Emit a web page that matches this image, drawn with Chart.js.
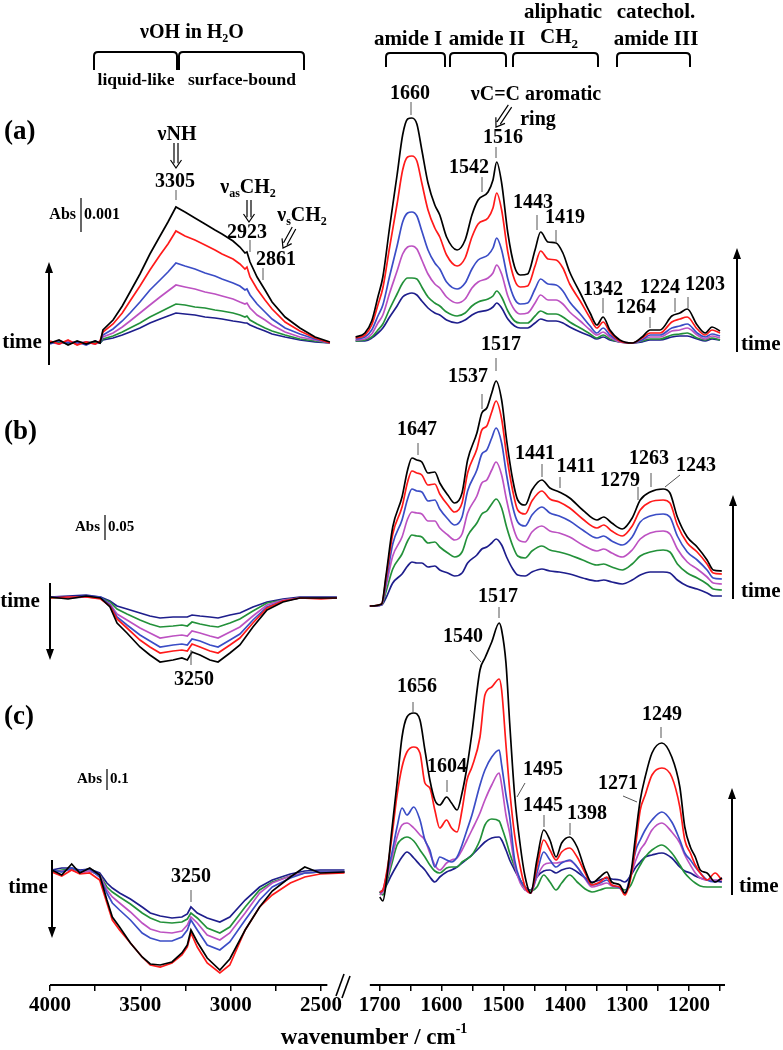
<!DOCTYPE html>
<html>
<head>
<meta charset="utf-8">
<title>IR spectra</title>
<script src="https://cdn.jsdelivr.net/npm/chart.js@4.4.0/dist/chart.umd.min.js"></script>
<style>
  body { margin: 0; background: #fff; }
  #wrap { width: 783px; height: 1050px; position: relative; }
</style>
</head>
<body>
<div id="wrap"><canvas id="spectra" width="783" height="1050"></canvas></div>
<script>
// axis ticks (cm-1)
var xLeftTicks = [4000, 3750, 3500, 3250, 3000, 2750, 2500];
var xLeftLabels = [4000, 3500, 3000, 2500];
var xRightTicks = [1700, 1650, 1600, 1550, 1500, 1450, 1400, 1350, 1300, 1250, 1200, 1150];
var xRightLabels = [1700, 1600, 1500, 1400, 1300, 1200];

// wavenumber grids (cm-1)
var wnALeft = [4000,3950,3900,3850,3800,3750,3723,3707,3651,3600,3557,3502,3447,3391,3347,3303,3253,3198,3142,3087,3048,2987,2949,2921,2910,2893,2854,2810,2771,2699,2617,2533,2451];
var wnARight = [1739,1724,1713,1703,1695,1684,1672,1663,1655,1648,1640,1632,1622,1611,1603,1592,1575,1562,1551,1541,1525,1517,1511,1503,1493,1482,1473,1461,1449,1440,1428,1415,1404,1393,1376,1360,1349,1339,1328,1312,1292,1276,1263,1247,1228,1215,1203,1187,1174,1163,1150];
var wnBLeft = [4000,3900,3800,3720,3668,3629,3574,3502,3447,3391,3319,3270,3240,3214,3170,3115,3070,3004,2949,2877,2799,2711,2617,2500,2412];
var wnBRight = [1716,1697,1690,1679,1664,1655,1648,1640,1632,1622,1611,1603,1590,1579,1567,1558,1543,1535,1527,1519,1512,1503,1495,1485,1477,1465,1454,1438,1425,1410,1393,1372,1349,1338,1325,1308,1292,1279,1263,1242,1231,1219,1203,1187,1171,1161,1147];
var wnCLeft = [3990,3935,3880,3835,3780,3725,3685,3655,3615,3555,3490,3445,3390,3325,3270,3240,3220,3185,3130,3060,3005,2920,2840,2770,2670,2590,2505,2370];
var wnCRight = [1700,1695,1689,1681,1672,1664,1656,1645,1635,1627,1619,1611,1603,1592,1584,1575,1567,1559,1551,1538,1530,1519,1507,1503,1496,1490,1482,1473,1465,1456,1446,1435,1425,1415,1406,1393,1381,1368,1357,1344,1333,1325,1312,1304,1294,1286,1279,1271,1260,1244,1228,1215,1207,1198,1190,1182,1171,1158,1147];

// absorbance in panel units (scale bars: a 34 = 0.001, b 25 = 0.05, c 21 = 0.1)
// panel (a)
var aLeftBlack = [0,3,-2,2,-1,2,0,13,23,37,51,69,89,107,121,136,131,125,119,113,109,102,96,90,91,81,66,53,41,26,15,6,1];
var aLeftRed = [2,-1,3,-2,1,-1,2,11,19,30,42,57,73,88,99,112,107,103,98,93,89,84,79,74,76,66,54,43,34,21,12,5,0];
var aLeftBlue = [-1,2,0,1,-2,2,0,8,14,22,30,41,53,63,71,80,77,74,70,67,64,60,57,53,54,48,39,31,24,15,9,4,0];
var aLeftMagenta = [1,-1,2,0,1,-1,1,6,10,16,22,30,38,46,52,58,56,54,51,49,47,44,41,39,40,35,28,23,18,11,6,3,0];
var aLeftGreen = [0,1,-1,1,0,1,0,4,7,11,15,20,26,31,35,39,38,36,35,33,32,30,28,26,27,23,19,15,12,8,4,2,0];
var aLeftNavy = [1,0,1,-1,1,0,0,3,5,8,11,15,20,24,27,30,29,28,26,25,24,22,21,20,20,18,15,12,9,6,3,1,0];

var aRightBlack = [6,10,22,46,66,116,168,208,224,225,219,193,160,138,128,106,93,103,128,143,151,163,181,160,110,76,68,69,93,111,101,100,90,71,50,30,18,26,13,3,0,6,13,13,27,30,34,18,10,16,12];
var aRightRed = [5,8,18,38,55,96,139,173,186,187,182,160,133,115,106,88,77,85,106,119,125,135,150,133,91,63,56,57,77,92,84,83,75,59,42,25,15,21,11,2,0,5,10,10,21,24,26,14,8,13,10];
var aRightBlue = [4,6,13,27,38,67,97,121,130,131,127,112,93,80,74,61,54,60,74,83,88,95,105,93,64,44,39,40,54,64,59,58,52,41,29,17,10,15,8,2,0,3,8,8,15,17,19,10,6,9,7];
var aRightMagenta = [3,4,9,20,28,50,72,89,96,97,94,83,69,59,55,46,40,44,55,61,65,70,78,69,47,33,29,30,40,48,43,43,39,31,22,13,8,11,6,1,0,3,6,6,12,13,15,8,4,7,5];
var aRightGreen = [2,3,6,13,19,34,49,60,65,65,64,56,46,40,37,31,27,30,37,41,44,47,52,46,32,22,20,20,27,32,29,29,26,21,15,9,5,8,4,1,0,2,4,4,8,9,10,5,3,5,3];
var aRightNavy = [2,2,5,10,15,26,37,46,49,50,48,42,35,30,28,23,20,23,28,31,33,36,40,35,24,17,15,15,20,24,22,22,20,16,11,7,4,6,3,1,0,1,3,3,6,7,7,4,2,4,3];

// panel (b)
var bLeftBlack = [10,8,11,9,0,-16,-26,-40,-48,-55,-53,-51,-53,-45,-48,-53,-55,-46,-38,-20,-3,5,9,9,9];
var bLeftRed = [9,10,10,8,1,-12,-21,-33,-40,-46,-44,-43,-44,-37,-40,-44,-46,-38,-31,-16,-1,6,9,8,9];
var bLeftBlue = [10,9,11,10,2,-10,-18,-28,-34,-40,-38,-37,-38,-32,-34,-38,-40,-33,-27,-13,0,6,9,9,9];
var bLeftMagenta = [10,9,10,9,3,-7,-13,-21,-26,-31,-29,-28,-29,-24,-26,-29,-31,-25,-20,-9,2,7,9,9,9];
var bLeftGreen = [9,9,10,9,5,-2,-7,-13,-17,-20,-19,-18,-19,-15,-17,-19,-20,-16,-12,-4,4,7,9,9,9];
var bLeftNavy = [10,11,12,10,6,1,-2,-6,-9,-11,-10,-10,-10,-8,-9,-10,-11,-8,-6,0,5,8,10,10,10];

var bRightBlack = [1,3,31,80,110,137,149,147,145,134,135,124,112,104,114,147,174,194,199,214,226,207,167,127,107,102,117,127,119,115,109,97,87,90,84,78,89,107,115,118,114,90,70,60,47,37,36];
var bRightRed = [1,3,28,73,100,125,136,134,132,122,123,113,102,95,104,134,158,177,181,195,206,188,152,116,97,93,106,116,108,105,99,88,79,82,76,71,81,97,105,107,104,82,64,55,43,34,33];
var bRightBlue = [1,2,24,63,87,108,118,116,115,106,107,98,88,82,90,116,137,153,157,169,179,164,132,100,85,81,92,100,94,91,86,77,69,71,66,62,70,85,91,93,90,71,55,47,37,29,28];
var bRightMagenta = [1,2,20,51,70,88,95,94,93,86,86,79,72,67,73,94,111,124,127,137,145,132,107,81,68,65,75,81,76,74,70,62,56,58,54,50,57,68,74,76,73,58,45,38,30,24,23];
var bRightGreen = [1,2,15,38,53,66,72,71,70,64,65,60,54,50,55,71,84,93,96,103,108,99,80,61,51,49,56,61,57,55,52,47,42,43,40,37,43,51,55,57,55,43,34,29,23,18,17];
var bRightNavy = [1,2,9,24,33,41,45,44,44,40,41,37,34,31,34,44,52,58,60,64,68,62,50,38,32,31,35,38,36,35,33,29,26,27,25,23,27,32,35,35,34,27,21,18,14,11,11];

// panel (c)
var cLeftBlack = [25,20,31,22,27,20,-5,-22,-32,-48,-62,-69,-70,-67,-58,-50,-35,-47,-63,-75,-64,-35,-12,4,18,28,22,23];
var cLeftRed = [23,19,25,21,22,15,-8,-25,-35,-48,-62,-70,-72,-68,-60,-52,-38,-52,-68,-78,-70,-35,-12,0,12,18,21,22];
var cLeftBlue = [25,23,27,24,26,18,2,-8,-15,-25,-38,-43,-46,-46,-42,-35,-25,-35,-50,-55,-47,-25,-5,8,17,22,23,23];
var cLeftMagenta = [23,24,25,22,24,20,5,-2,-8,-17,-28,-34,-37,-38,-36,-30,-22,-28,-40,-45,-38,-18,2,12,19,22,23,23];
var cLeftGreen = [23,25,26,23,24,20,8,3,-2,-9,-18,-23,-27,-28,-27,-24,-18,-23,-33,-38,-32,-12,5,13,19,22,23,23];
var cLeftNavy = [25,27,27,25,26,22,12,7,2,-4,-12,-18,-21,-23,-22,-19,-12,-18,-23,-27,-22,-5,8,15,21,24,25,25];

var cRightBlack = [-2,-6,15,62,112,158,178,182,175,145,115,95,90,98,92,85,102,128,162,225,237,253,272,265,232,172,100,50,18,2,35,65,55,38,52,58,48,25,12,18,23,13,10,2,22,62,95,118,142,152,138,108,68,48,38,25,22,13,17];
var cRightRed = [3,5,22,55,100,128,143,148,142,112,107,85,67,75,67,63,85,115,128,158,200,208,216,205,150,105,60,28,8,2,28,55,45,35,43,47,38,22,10,13,18,10,8,0,18,52,85,100,120,127,118,88,55,42,30,22,15,22,15];
var cRightBlue = [3,5,20,40,68,87,80,88,75,55,45,28,38,35,33,38,50,65,80,110,125,138,145,130,100,78,35,15,8,2,22,43,35,28,32,35,28,17,10,12,15,10,7,2,22,45,55,65,75,83,73,55,42,35,28,22,15,13,17];
var cRightMagenta = [0,3,15,35,58,70,72,67,60,55,42,30,25,32,35,37,45,55,65,82,95,110,122,110,80,62,30,12,5,2,18,30,32,32,33,34,28,16,8,10,12,9,7,2,20,35,45,52,65,72,63,52,40,30,22,17,15,15,15];
var cRightGreen = [3,0,12,30,50,56,58,54,45,38,30,24,22,27,28,28,33,36,40,55,70,76,74,68,55,42,28,15,5,4,8,20,13,5,12,20,13,6,3,5,7,7,7,5,10,22,30,38,45,50,42,30,22,16,12,9,8,8,8];
var cRightNavy = [2,4,10,20,30,38,43,37,30,25,18,13,18,23,25,28,32,36,40,48,53,57,58,55,45,35,25,15,8,5,18,24,25,22,25,27,23,17,13,15,17,16,15,13,20,28,33,38,40,42,37,28,24,22,19,17,15,14,13];

// black, red, blue, magenta, green, navy
var colors = ['#000000', '#ff1a1a', '#3b4dc6', '#bd52c2', '#23913a', '#1e1e8c'];

var serif = '"Liberation Serif", "Times New Roman", serif';

function buildSets(wn, seriesList, xId, yId, smooth) {
    return seriesList.map(function(vals, i) {
        return {
            data: wn.map(function(w, j) { return {x: w, y: vals[j]}; }),
            borderColor: colors[i],
            borderWidth: 1.7,
            pointRadius: 0,
            fill: false,
            clip: false,
            tension: 0,
            cubicInterpolationMode: smooth ? 'monotone' : 'default',
            xAxisID: xId,
            yAxisID: yId
        };
    });
}

var datasets = [].concat(
    buildSets(wnALeft, [aLeftBlack, aLeftRed, aLeftBlue, aLeftMagenta, aLeftGreen, aLeftNavy], 'xl', 'ya', false),
    buildSets(wnARight, [aRightBlack, aRightRed, aRightBlue, aRightMagenta, aRightGreen, aRightNavy], 'xr', 'ya', true),
    buildSets(wnBLeft, [bLeftBlack, bLeftRed, bLeftBlue, bLeftMagenta, bLeftGreen, bLeftNavy], 'xl', 'yb', false),
    buildSets(wnBRight, [bRightBlack, bRightRed, bRightBlue, bRightMagenta, bRightGreen, bRightNavy], 'xr', 'yb', true),
    buildSets(wnCLeft, [cLeftBlack, cLeftRed, cLeftBlue, cLeftMagenta, cLeftGreen, cLeftNavy], 'xl', 'yc', false),
    buildSets(wnCRight, [cRightBlack, cRightRed, cRightBlue, cRightMagenta, cRightGreen, cRightNavy], 'xr', 'yc', true)
);

// ---- annotation text, all in canvas pixels ----
var peakLabels = [
    // text, x, y, leader x1, y1, x2, y2
    ['1660', 410, 94, 411, 102, 411, 115],
    ['1516', 503, 138, 496, 147, 496, 158],
    ['1542', 469, 168, 482, 177, 482, 192],
    ['1443', 533, 203, 537, 215, 537, 230],
    ['1419', 565, 218, 556, 230, 556, 243],
    ['1342', 603, 290, 603, 298, 603, 313],
    ['1264', 636, 308, 650, 317, 650, 328],
    ['1224', 660, 288, 675, 298, 675, 312],
    ['1203', 705, 285, 688, 297, 688, 308],
    ['3305', 175, 182, 176, 190, 176, 200],
    ['2923', 247, 233, 250, 240, 250, 252],
    ['2861', 276, 260, 263, 268, 263, 280],
    ['1517', 501, 345, 496, 358, 496, 371],
    ['1537', 468, 377, 482, 394, 482, 409],
    ['1647', 417, 430, 418, 443, 418, 455],
    ['1441', 535, 454, 542, 464, 542, 477],
    ['1411', 576, 467, 560, 477, 560, 488],
    ['1279', 620, 481, 638, 487, 638, 500],
    ['1263', 649, 459, 651, 473, 651, 487],
    ['1243', 696, 466, 680, 475, 665, 487],
    ['3250', 194, 680, 191, 650, 191, 665],
    ['1517', 498, 597, 499, 607, 499, 618],
    ['1540', 463, 637, 470, 650, 481, 662],
    ['1656', 417, 687, 413, 702, 413, 713],
    ['1604', 447, 767, 447, 780, 447, 792],
    ['1495', 543, 770, 525, 783, 517, 797],
    ['1445', 543, 806, 544, 815, 544, 827],
    ['1398', 587, 814, 570, 823, 570, 835],
    ['1271', 618, 784, 623, 796, 637, 802],
    ['1249', 662, 715, 661, 727, 661, 738],
    ['3250', 191, 877, 191, 890, 191, 902]
];

// scale bars: axis, base value, length in panel units, label, x, font size
var scaleBars = [
    ['ya', 111, 34, '0.001', 81, 16],
    ['yb', 67, 25, '0.05', 105, 15],
    ['yc', 105, 21, '0.1', 107, 15]
];

function font(size) { return 'bold ' + size + 'px ' + serif; }

function text(ctx, s, x, y, size, align) {
    ctx.font = font(size);
    ctx.textAlign = align || 'center';
    ctx.textBaseline = 'middle';
    ctx.fillText(s, x, y);
}

// parts: [string, 0 normal | 1 subscript | 2 superscript]
function rich(ctx, parts, x, y, size) {
    var small = Math.round(size * 0.62);
    var w = 0;
    parts.forEach(function(p) {
        ctx.font = font(p[1] ? small : size);
        w += ctx.measureText(p[0]).width;
    });
    var cx = x - w / 2;
    ctx.textAlign = 'left';
    ctx.textBaseline = 'middle';
    parts.forEach(function(p) {
        ctx.font = font(p[1] ? small : size);
        var dy = p[1] === 1 ? size * 0.3 : p[1] === 2 ? -size * 0.36 : 0;
        ctx.fillText(p[0], cx, y + dy);
        cx += ctx.measureText(p[0]).width;
    });
}

function seg(ctx, x1, y1, x2, y2) {
    ctx.beginPath();
    ctx.moveTo(x1, y1);
    ctx.lineTo(x2, y2);
    ctx.stroke();
}

function bracket(ctx, x1, x2, yTop, yEnd) {
    var r = 4;
    ctx.beginPath();
    ctx.moveTo(x1, yEnd);
    ctx.lineTo(x1, yTop + r);
    ctx.quadraticCurveTo(x1, yTop, x1 + r, yTop);
    ctx.lineTo(x2 - r, yTop);
    ctx.quadraticCurveTo(x2, yTop, x2, yTop + r);
    ctx.lineTo(x2, yEnd);
    ctx.stroke();
}

function arrow(ctx, x1, y1, x2, y2) {
    var len = Math.hypot(x2 - x1, y2 - y1), ux = (x2 - x1) / len, uy = (y2 - y1) / len;
    ctx.lineWidth = 2;
    seg(ctx, x1, y1, x2 - ux * 6, y2 - uy * 6);
    ctx.beginPath();
    ctx.moveTo(x2, y2);
    ctx.lineTo(x2 - ux * 11 - uy * 4, y2 - uy * 11 + ux * 4);
    ctx.lineTo(x2 - ux * 11 + uy * 4, y2 - uy * 11 - ux * 4);
    ctx.closePath();
    ctx.fill();
}

function dblArrow(ctx, x1, y1, x2, y2) {
    var len = Math.hypot(x2 - x1, y2 - y1), ux = (x2 - x1) / len, uy = (y2 - y1) / len;
    var nx = -uy, ny = ux, g = 2, hl = 8, hw = 5.5;
    ctx.lineWidth = 1.2;
    ctx.beginPath();
    [-g, g].forEach(function(o) {
        ctx.moveTo(x1 + nx * o, y1 + ny * o);
        ctx.lineTo(x2 - ux * hl * 0.6 + nx * o, y2 - uy * hl * 0.6 + ny * o);
    });
    ctx.moveTo(x2 - ux * hl + nx * hw, y2 - uy * hl + ny * hw);
    ctx.lineTo(x2, y2);
    ctx.lineTo(x2 - ux * hl - nx * hw, y2 - uy * hl - ny * hw);
    ctx.stroke();
}

var annotate = {
    id: 'annotate',
    afterDraw: function(chart) {
        var ctx = chart.ctx, sc = chart.scales, bottom = chart.chartArea.bottom;
        ctx.save();
        ctx.fillStyle = '#000';
        ctx.strokeStyle = '#000';

        // axis lines and break
        ctx.lineWidth = 2;
        seg(ctx, sc.xl.getPixelForValue(4000), bottom, sc.xl.getPixelForValue(2465), bottom);
        seg(ctx, sc.xr.getPixelForValue(1716), bottom, sc.xr.getPixelForValue(1142), bottom);
        ctx.lineWidth = 1.6;
        seg(ctx, 336, 996, 344, 974);
        seg(ctx, 342, 998, 350, 976);
        rich(ctx, [['wavenumber / cm', 0], ['-1', 2]], 374, 1038, 23);

        // headers
        rich(ctx, [['\u03BDOH in H', 0], ['2', 1], ['O', 0]], 192, 33, 20);
        ctx.lineWidth = 2;
        bracket(ctx, 94, 177, 52, 70);
        bracket(ctx, 179, 304, 52, 70);
        text(ctx, 'liquid-like', 136, 80, 17.5);
        text(ctx, 'surface-bound', 242, 80, 17.5);
        text(ctx, 'amide I', 408, 40, 21);
        text(ctx, 'amide II', 487, 40, 21);
        text(ctx, 'aliphatic', 563, 13, 21);
        rich(ctx, [['CH', 0], ['2', 1]], 559, 38, 21);
        text(ctx, 'catechol.', 656, 13, 21);
        text(ctx, 'amide III', 656, 40, 21);
        ctx.lineWidth = 2;
        bracket(ctx, 386, 445, 53, 67);
        bracket(ctx, 450, 506, 53, 67);
        bracket(ctx, 513, 598, 53, 67);
        bracket(ctx, 617, 690, 53, 67);

        // panel letters
        text(ctx, '(a)', 4, 132, 27, 'left');
        text(ctx, '(b)', 4, 432, 27, 'left');
        text(ctx, '(c)', 4, 717, 27, 'left');

        // band assignments
        text(ctx, '\u03BDNH', 177, 135, 20);
        dblArrow(ctx, 176, 143, 176, 168);
        rich(ctx, [['\u03BD', 0], ['as', 1], ['CH', 0], ['2', 1]], 248, 188, 20);
        dblArrow(ctx, 249, 200, 249, 222);
        rich(ctx, [['\u03BD', 0], ['s', 1], ['CH', 0], ['2', 1]], 302, 216, 20);
        dblArrow(ctx, 294, 228, 283, 248);
        text(ctx, '\u03BDC=C aromatic', 536, 95, 20);
        text(ctx, 'ring', 538, 120, 20);
        dblArrow(ctx, 510, 106, 496, 127);

        // peak labels with leaders
        peakLabels.forEach(function(p) {
            text(ctx, p[0], p[1], p[2], 20);
            ctx.strokeStyle = '#555';
            ctx.lineWidth = 1;
            seg(ctx, p[3], p[4], p[5], p[6]);
            ctx.strokeStyle = '#000';
        });

        // absorbance scale bars
        scaleBars.forEach(function(b) {
            var y1 = sc[b[0]].getPixelForValue(b[1]);
            var y2 = sc[b[0]].getPixelForValue(b[1] + b[2]);
            var ym = (y1 + y2) / 2;
            ctx.lineWidth = 1.2;
            seg(ctx, b[4], y1, b[4], y2);
            text(ctx, 'Abs', b[4] - 5, ym, b[5], 'right');
            text(ctx, b[3], b[4] + 3, ym, b[5], 'left');
        });

        // time arrows
        text(ctx, 'time', 22, 343, 21);
        arrow(ctx, 49, 365, 49, 262);
        text(ctx, 'time', 20, 602, 21);
        arrow(ctx, 50, 583, 50, 660);
        text(ctx, 'time', 28, 888, 21);
        arrow(ctx, 52, 860, 52, 938);
        text(ctx, 'time', 741, 345, 21, 'left');
        arrow(ctx, 737, 352, 737, 248);
        text(ctx, 'time', 741, 592, 21, 'left');
        arrow(ctx, 733, 599, 733, 495);
        text(ctx, 'time', 739, 887, 21, 'left');
        arrow(ctx, 732, 895, 732, 788);

        ctx.restore();
    }
};

var tickFont = { family: serif, size: 21, weight: 'bold' };

function xAxis(min, max, weight, tickList, labelList) {
    return {
        type: 'linear', position: 'bottom', stack: 'wn', stackWeight: weight,
        min: min, max: max, reverse: true,
        border: { display: false },
        grid: { drawOnChartArea: false, tickLength: 6, color: '#000', lineWidth: 1.5 },
        ticks: {
            autoSkip: false, maxRotation: 0, padding: 2, color: '#000', font: tickFont,
            callback: function(v) { return labelList.indexOf(v) >= 0 ? String(v) : ''; }
        },
        afterBuildTicks: function(s) {
            s.ticks = tickList.map(function(v) { return { value: v }; });
        },
        afterFit: function(s) { s.height = 65; }
    };
}

new Chart(document.getElementById('spectra'), {
    type: 'line',
    data: { datasets: datasets },
    options: {
        responsive: false,
        animation: false,
        devicePixelRatio: 1,
        events: [],
        layout: { padding: { top: 100, left: 50, right: 58, bottom: 0 } },
        plugins: { legend: { display: false }, tooltip: { enabled: false } },
        scales: {
            xl: xAxis(2312, 4000, 305, xLeftTicks, xLeftLabels),
            xr: xAxis(1142, 1740, 370, xRightTicks, xRightLabels),
            yc: { type: 'linear', display: false, position: 'left', stack: 'panels', stackWeight: 295, min: -90, max: 205 },
            yb: { type: 'linear', display: false, position: 'left', stack: 'panels', stackWeight: 320, min: -83, max: 237 },
            ya: { type: 'linear', display: false, position: 'left', stack: 'panels', stackWeight: 270, min: -27, max: 243 }
        }
    },
    plugins: [annotate]
});
</script>
</body>
</html>
